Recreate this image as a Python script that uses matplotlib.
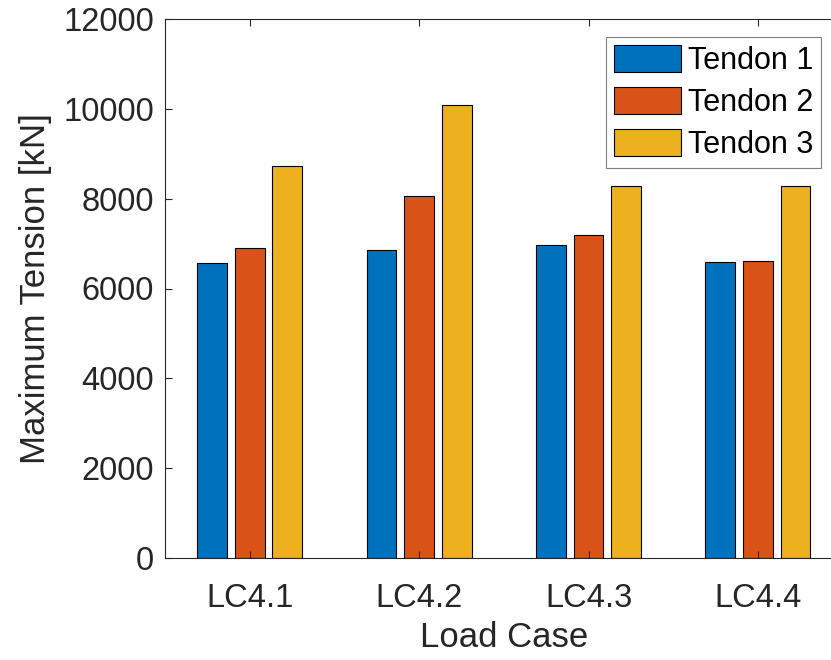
import numpy as np
import matplotlib
matplotlib.use("Agg")
import matplotlib.pyplot as plt

plt.rcParams['font.family'] = ['Liberation Sans', 'DejaVu Sans']

cases = ['LC4.1', 'LC4.2', 'LC4.3', 'LC4.4']
tendon1 = [6570, 6860, 6960, 6590]
tendon2 = [6910, 8070, 7180, 6610]
tendon3 = [8730, 10080, 8280, 8290]
series_names = ['Tendon 1', 'Tendon 2', 'Tendon 3']
colors = ['#0072BD', '#D95319', '#EDB120']

fig = plt.figure(figsize=(8.31, 6.6), dpi=100)
ax = fig.add_axes([165 / 831, 1 - 558 / 660, 677.6 / 831, 539 / 660])

x = np.arange(1, len(cases) + 1)
offsets = [-0.222, 0.0, 0.222]
for vals, off, c, name in zip([tendon1, tendon2, tendon3], offsets, colors, series_names):
    ax.bar(x + off, vals, width=0.177, color=c, edgecolor='black', linewidth=0.8, label=name)

ax.set_xlim(0.5, 4.5)
ax.set_ylim(0, 12000)
ax.set_xticks(x)
ax.set_xticklabels(cases)
ax.set_yticks(np.arange(0, 12001, 2000))

ax.tick_params(direction='in', top=True, right=True, labelsize=23.5,
               colors='#262626', length=5, width=0.8, pad=8)
ax.tick_params(axis='x', pad=18)
for s in ax.spines.values():
    s.set_color('#262626')
    s.set_linewidth(0.8)

ax.set_xlabel('Load Case', fontsize=25, color='#262626', labelpad=5)
ax.set_ylabel('Maximum Tension [kN]', fontsize=25, color='#262626', labelpad=8)

leg = ax.legend(loc='upper right', bbox_to_anchor=(821 / 831, 1 - 37 / 660),
                bbox_transform=fig.transFigure, fontsize=22, fancybox=False,
                framealpha=1, edgecolor='#7f7f7f', borderaxespad=0,
                handlelength=2.2, handleheight=1.0, handletextpad=0.22,
                labelspacing=0.36, borderpad=0.25)
leg.get_frame().set_linewidth(0.8)

fig.savefig('out.png', dpi=100)
